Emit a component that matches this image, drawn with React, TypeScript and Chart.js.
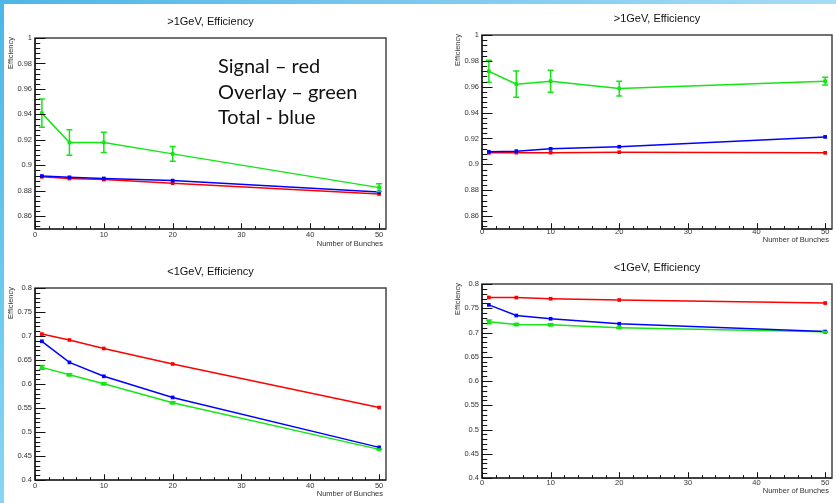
import React, { useEffect, useRef } from "react";
import { Chart, registerables } from "chart.js";

Chart.register(...registerables);

// ---------- data ----------
const bunches = [1, 5, 10, 20, 50];
const xTicks = [0, 10, 20, 30, 40, 50];
const hiTicks = [0.86, 0.88, 0.9, 0.92, 0.94, 0.96, 0.98, 1];
const loTicks = [0.4, 0.45, 0.5, 0.55, 0.6, 0.65, 0.7, 0.75, 0.8];

// >1GeV, left panel
const hiLeftSignal = [0.891, 0.8896, 0.8888, 0.886, 0.8775];
const hiLeftOverlay = [0.941, 0.918, 0.918, 0.909, 0.8825];
const hiLeftOverlayErr = [0.011, 0.01, 0.008, 0.0057, 0.003];
const hiLeftTotal = [0.8916, 0.8906, 0.8897, 0.888, 0.879];

// >1GeV, right panel
const hiRightSignal = [0.9089, 0.909, 0.909, 0.9094, 0.9089];
const hiRightOverlay = [0.972, 0.962, 0.9643, 0.9586, 0.9643];
const hiRightOverlayErr = [0.0085, 0.0102, 0.0085, 0.0057, 0.003];
const hiRightTotal = [0.9097, 0.9102, 0.912, 0.9136, 0.9212];

// <1GeV, left panel
const loLeftSignal = [0.704, 0.6917, 0.674, 0.6417, 0.551];
const loLeftOverlay = [0.6346, 0.6194, 0.6006, 0.561, 0.4638];
const loLeftOverlayErr = [0.004, 0.002, 0.002, 0.002, 0.001];
const loLeftTotal = [0.689, 0.645, 0.616, 0.572, 0.468];

// <1GeV, right panel
const loRightSignal = [0.7723, 0.772, 0.7696, 0.767, 0.7607];
const loRightOverlay = [0.722, 0.7164, 0.716, 0.71, 0.7013];
const loRightOverlayErr = [0.004, 0.002, 0.002, 0.001, 0.001];
const loRightTotal = [0.757, 0.735, 0.7283, 0.718, 0.702];

const RED = "#ff0000";
const GREEN = "#14e614";
const BLUE = "#0000ff";
const FONT = '"Liberation Sans", Arial, sans-serif';

type Panel = {
  title: string;
  left: number; top: number; width: number; height: number;
  yAxisW: number; xAxisH: number; padTop: number; padRight: number;
  yMin: number; yMax: number; yTicks: number[]; yMinorDiv: number;
  xLabelPad: number; xTitleOff: number;
  signal: number[]; overlay: number[]; overlayErr: number[]; total: number[];
};

const panels: Panel[] = [
  {
    title: ">1GeV, Efficiency",
    left: 0, top: 0, width: 418, height: 250,
    yAxisW: 35, xAxisH: 21, padTop: 38, padRight: 32,
    yMin: 0.85, yMax: 1, yTicks: hiTicks, yMinorDiv: 5,
    xLabelPad: 1, xTitleOff: 14.5,
    signal: hiLeftSignal, overlay: hiLeftOverlay, overlayErr: hiLeftOverlayErr, total: hiLeftTotal,
  },
  {
    title: ">1GeV, Efficiency",
    left: 420, top: 0, width: 416, height: 250,
    yAxisW: 62, xAxisH: 21, padTop: 35, padRight: 4,
    yMin: 0.85, yMax: 1, yTicks: hiTicks, yMinorDiv: 5,
    xLabelPad: -2, xTitleOff: 10.5,
    signal: hiRightSignal, overlay: hiRightOverlay, overlayErr: hiRightOverlayErr, total: hiRightTotal,
  },
  {
    title: "<1GeV, Efficiency",
    left: 0, top: 250, width: 418, height: 253,
    yAxisW: 35, xAxisH: 23, padTop: 38, padRight: 32,
    yMin: 0.4, yMax: 0.8, yTicks: loTicks, yMinorDiv: 5,
    xLabelPad: 1, xTitleOff: 14.3,
    signal: loLeftSignal, overlay: loLeftOverlay, overlayErr: loLeftOverlayErr, total: loLeftTotal,
  },
  {
    title: "<1GeV, Efficiency",
    left: 420, top: 250, width: 416, height: 253,
    yAxisW: 62, xAxisH: 25, padTop: 34, padRight: 4,
    yMin: 0.4, yMax: 0.8, yTicks: loTicks, yMinorDiv: 5,
    xLabelPad: 0, xTitleOff: 13,
    signal: loRightSignal, overlay: loRightOverlay, overlayErr: loRightOverlayErr, total: loRightTotal,
  },
];

function minorValues(majors: number[], div: number, lo: number, hi: number): number[] {
  const step = (majors[1] - majors[0]) / div;
  const out: number[] = [];
  const eps = step * 1e-3;
  let v = majors[0] - step;
  while (v >= lo - eps) { out.push(v); v -= step; }
  for (let i = 0; i < majors.length; i++) {
    for (let k = 1; k < div; k++) {
      const m = majors[i] + k * step;
      if (m <= hi + eps) out.push(m);
    }
  }
  v = majors[majors.length - 1] + step * div;
  while (v <= hi + eps) {
    out.push(v);
    for (let k = 1; k < div; k++) { const m = v + k * step; if (m <= hi + eps) out.push(m); }
    v += step * div;
  }
  return out;
}

function makeRootPlugin(p: Panel) {
  return {
    id: "rootStyle",
    afterDatasetsDraw(chart: any) {
      const { ctx, chartArea: a, scales } = chart;
      const xs = scales.x;
      const ys = scales.y;
      ctx.save();

      // error bars on overlay
      ctx.strokeStyle = GREEN;
      ctx.lineWidth = 1.5;
      for (let i = 0; i < bunches.length; i++) {
        const px = xs.getPixelForValue(bunches[i]);
        const y1 = ys.getPixelForValue(p.overlay[i] - p.overlayErr[i]);
        const y2 = ys.getPixelForValue(p.overlay[i] + p.overlayErr[i]);
        ctx.beginPath();
        ctx.moveTo(px, y1); ctx.lineTo(px, y2);
        ctx.moveTo(px - 3, y1); ctx.lineTo(px + 3, y1);
        ctx.moveTo(px - 3, y2); ctx.lineTo(px + 3, y2);
        ctx.stroke();
      }

      // frame
      ctx.strokeStyle = "#444";
      ctx.lineWidth = 1.5;
      ctx.strokeRect(a.left, a.top, a.right - a.left, a.bottom - a.top);
      ctx.strokeStyle = "#111";
      ctx.lineWidth = 1.2;
      ctx.beginPath();
      ctx.moveTo(a.left, a.top); ctx.lineTo(a.left, a.bottom); ctx.lineTo(a.right, a.bottom);
      ctx.stroke();

      // inward ticks
      const fw = a.right - a.left;
      const fh = a.bottom - a.top;
      const yMaj = 0.03 * fw;
      const xMaj = 0.03 * fh;
      ctx.lineWidth = 1;
      ctx.strokeStyle = "#111";
      ctx.beginPath();
      for (const v of p.yTicks) {
        const py = Math.round(ys.getPixelForValue(v)) + 0.5;
        ctx.moveTo(a.left, py); ctx.lineTo(a.left + yMaj, py);
      }
      for (const v of minorValues(p.yTicks, p.yMinorDiv, p.yMin, p.yMax)) {
        const py = Math.round(ys.getPixelForValue(v)) + 0.5;
        ctx.moveTo(a.left, py); ctx.lineTo(a.left + yMaj / 2, py);
      }
      for (const v of xTicks) {
        const px = Math.round(xs.getPixelForValue(v)) + 0.5;
        ctx.moveTo(px, a.bottom); ctx.lineTo(px, a.bottom - xMaj);
      }
      for (const v of minorValues(xTicks, 5, 0, 51)) {
        const px = Math.round(xs.getPixelForValue(v)) + 0.5;
        ctx.moveTo(px, a.bottom); ctx.lineTo(px, a.bottom - xMaj / 2);
      }
      ctx.stroke();

      // titles
      ctx.fillStyle = "#111";
      ctx.font = `11px ${FONT}`;
      ctx.textAlign = "center";
      ctx.textBaseline = "middle";
      ctx.fillText(p.title, (a.left + a.right) / 2, a.top - 16);

      ctx.fillStyle = "#333";
      ctx.font = `7.5px ${FONT}`;
      ctx.textAlign = "right";
      ctx.fillText("Number of Bunches", a.right - 3, a.bottom + p.xTitleOff);

      ctx.translate(a.left - 24, a.top - 1);
      ctx.rotate(-Math.PI / 2);
      ctx.textAlign = "right";
      ctx.fillText("Efficiency", 0, 0);
      ctx.restore();
    },
  };
}

function PanelChart({ p }: { p: Panel }) {
  const ref = useRef<HTMLCanvasElement>(null);
  useEffect(() => {
    const mk = (vals: number[]) => bunches.map((b, i) => ({ x: b, y: vals[i] }));
    const ds = (label: string, vals: number[], color: string) => ({
      label,
      data: mk(vals),
      borderColor: color,
      backgroundColor: color,
      borderWidth: 1.5,
      pointStyle: "rect" as const,
      pointRadius: 2.6,
      pointBorderWidth: 0,
      tension: 0,
      fill: false,
    });
    const chart = new Chart(ref.current!, {
      type: "line",
      data: {
        datasets: [
          ds("Total", p.total, BLUE),
          ds("Signal", p.signal, RED),
          ds("Overlay", p.overlay, GREEN),
        ],
      },
      options: {
        responsive: false,
        animation: false,
        layout: { padding: { top: p.padTop, right: p.padRight, left: 0, bottom: 0 } },
        plugins: { legend: { display: false }, tooltip: { enabled: false }, title: { display: false } },
        scales: {
          x: {
            type: "linear",
            min: 0,
            max: 51,
            grid: { display: false, drawTicks: false },
            border: { display: false },
            afterBuildTicks: (s: any) => { s.ticks = xTicks.map((v) => ({ value: v })); },
            afterFit: (s: any) => { s.height = p.xAxisH; },
            ticks: {
              padding: p.xLabelPad,
              autoSkip: false,
              maxRotation: 0,
              color: "#333",
              font: { family: FONT, size: 7.5 },
              callback: (v: any) => String(v),
            },
          },
          y: {
            type: "linear",
            min: p.yMin,
            max: p.yMax,
            grid: { display: false, drawTicks: false },
            border: { display: false },
            afterBuildTicks: (s: any) => { s.ticks = p.yTicks.map((v) => ({ value: v })); },
            afterFit: (s: any) => { s.width = p.yAxisW; },
            ticks: {
              padding: 3,
              autoSkip: false,
              color: "#333",
              font: { family: FONT, size: 7.5 },
              callback: (v: any) => String(v),
            },
          },
        },
      },
      plugins: [makeRootPlugin(p)],
    } as any);
    return () => chart.destroy();
  }, [p]);
  return (
    <canvas
      ref={ref}
      width={p.width}
      height={p.height}
      style={{ position: "absolute", left: p.left, top: p.top, width: p.width, height: p.height, display: "block" }}
    />
  );
}

export default function App() {
  return (
    <div style={{ position: "fixed", left: 0, top: 0, width: 836, height: 503, background: "#fff", overflow: "hidden" }}>
      {panels.map((p, i) => (
        <PanelChart key={i} p={p} />
      ))}
      <div
        style={{
          position: "absolute", left: 0, top: 0, width: 836, height: 4,
          background: "linear-gradient(to right, #4db6e6, #7cc8ee 50%, #a6dcf6)",
        }}
      />
      <div
        style={{
          position: "absolute", left: 0, top: 0, width: 4, height: 503,
          background: "linear-gradient(to bottom, #4db6e6, #6ccaf0 60%, #86d6f4)",
        }}
      />
      <div
        style={{
          position: "absolute", left: 218, top: 53, fontFamily: "Lato, sans-serif",
          fontSize: 20, lineHeight: "25.5px", color: "#111", whiteSpace: "pre",
        }}
      >
        {"Signal – red\nOverlay – green\nTotal - blue"}
      </div>
    </div>
  );
}
